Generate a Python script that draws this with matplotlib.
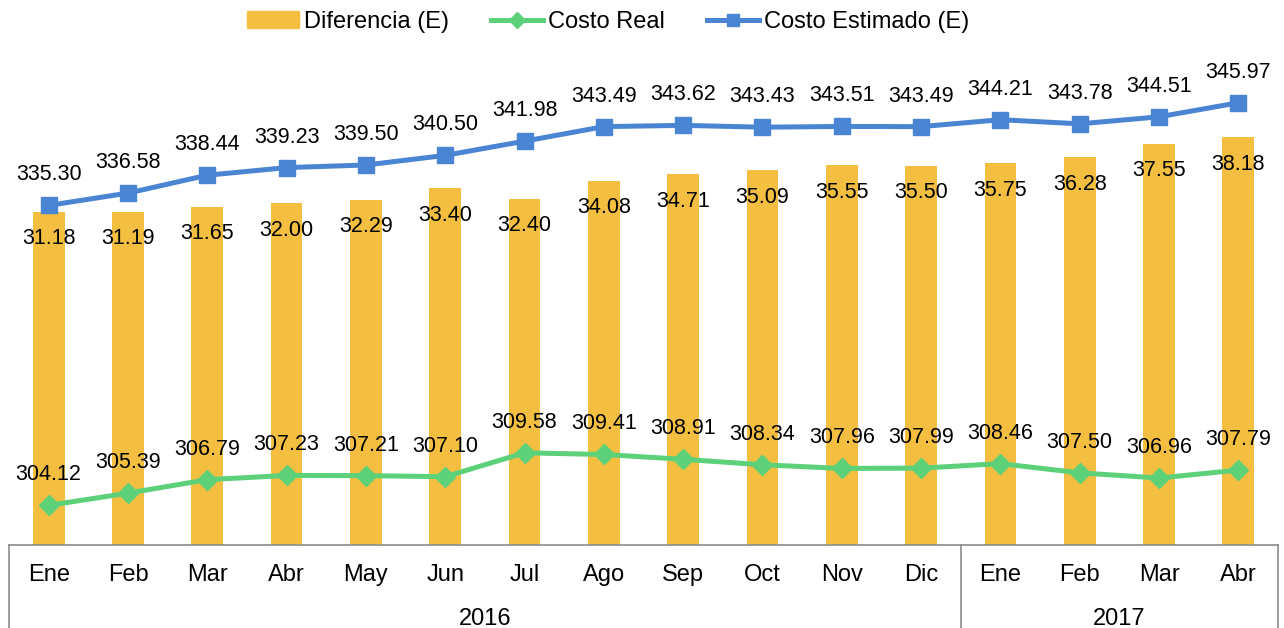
import matplotlib.pyplot as plt
from matplotlib.lines import Line2D
from matplotlib.patches import Patch

plt.rcParams['font.family'] = ['Liberation Sans', 'DejaVu Sans']

meses = ["Ene", "Feb", "Mar", "Abr", "May", "Jun", "Jul", "Ago", "Sep", "Oct", "Nov", "Dic",
         "Ene", "Feb", "Mar", "Abr"]
anios = [("2016", 0, 11), ("2017", 12, 15)]

diferencia = [31.18, 31.19, 31.65, 32.00, 32.29, 33.40, 32.40, 34.08, 34.71, 35.09, 35.55, 35.50,
              35.75, 36.28, 37.55, 38.18]
costo_real = [304.12, 305.39, 306.79, 307.23, 307.21, 307.10, 309.58, 309.41, 308.91, 308.34, 307.96,
              307.99, 308.46, 307.50, 306.96, 307.79]
costo_est = [335.30, 336.58, 338.44, 339.23, 339.50, 340.50, 341.98, 343.49, 343.62, 343.43, 343.51,
             343.49, 344.21, 343.78, 344.51, 345.97]

amarillo = '#F4BF40'
verde = '#5CD17A'
azul = '#4A85D4'
gris = '#8C8C8C'

fig = plt.figure(figsize=(12.84, 6.28), dpi=100)
ax2 = fig.add_axes([9/1284, 83/628, 1269/1284, 481/628])  # barras (eje secundario)
ax = ax2.twinx()

x = list(range(len(meses)))

ax2.bar(x, diferencia, width=0.4, color=amarillo, zorder=1)
ax2.set_ylim(0, 45)
for i, v in enumerate(diferencia):
    ax2.annotate(f"{v:.2f}", (i, v), xytext=(0, -23.5), textcoords='offset points',
                 ha='center', va='baseline', fontsize=15.5)

ax.plot(x, costo_real, color=verde, lw=3.6, marker='D', ms=10, zorder=3)
ax.plot(x, costo_est, color=azul, lw=3.6, marker='s', ms=11, zorder=3)
ax.set_ylim(300, 350)
for serie in (costo_real, costo_est):
    for i, v in enumerate(serie):
        ax.annotate(f"{v:.2f}", (i, v), xytext=(0, 18), textcoords='offset points',
                    ha='center', va='baseline', fontsize=15.5)

for a in (ax, ax2):
    a.set_xlim(-0.5, 15.5)
    for s in a.spines.values():
        s.set_visible(False)
    a.set_xticks([])
    a.set_yticks([])

# eje de categorias en dos niveles
tr = ax2.get_xaxis_transform()
ax2.plot([-0.5, 15.5], [0, 0], color=gris, lw=1.2, transform=tr, clip_on=False)
for xv in (-0.5, 11.5, 15.5):
    ax2.plot([xv, xv], [0, -0.2], color=gris, lw=1.2, transform=tr, clip_on=False)
for i, m in enumerate(meses):
    ax2.text(i, -36/481, m, transform=tr, ha='center', va='baseline', fontsize=17)
for nombre, a0, a1 in anios:
    ax2.text((a0 + a1) / 2, -80/481, nombre, transform=tr, ha='center', va='baseline', fontsize=17)

handles = [Patch(color=amarillo),
           Line2D([], [], color=verde, lw=3.6, marker='D', ms=8),
           Line2D([], [], color=azul, lw=3.6, marker='s', ms=9)]
fig.legend(handles, ["Diferencia (E)", "Costo Real", "Costo Estimado (E)"],
           loc='center', bbox_to_anchor=(608/1284, 1 - 22/628), ncol=3, frameon=False,
           fontsize=17, handlelength=2.2, handletextpad=0.2, columnspacing=1.8)

fig.savefig("out.png", dpi=100)
